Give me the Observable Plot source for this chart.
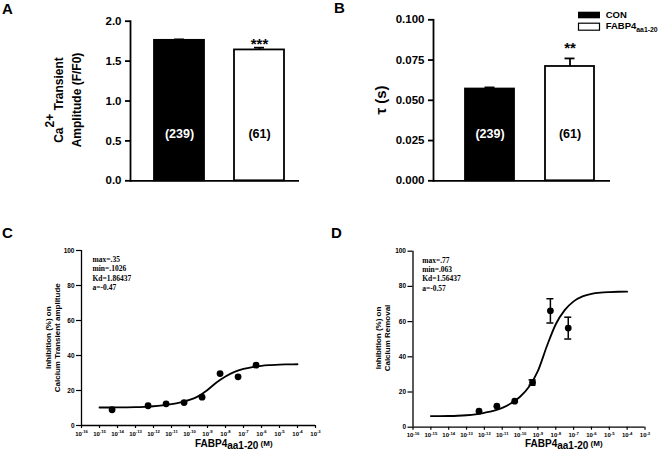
<!DOCTYPE html>
<html>
<head>
<meta charset="utf-8">
<script src="https://cdn.jsdelivr.net/npm/d3@7"></script>
<script src="https://cdn.jsdelivr.net/npm/@observablehq/plot@0.6"></script>
<style>
  body { margin: 0; background: #fff; }
  #fig { position: relative; width: 658px; height: 457px; overflow: hidden; background: #fff; }
  #fig svg { position: absolute; overflow: visible; }
  #fig text { white-space: pre; }
</style>
</head>
<body>
<div id="fig"></div>
<script>
// ---- Panels A and B: mean ± SEM per group ----
const groups = ["CON", "FABP4aa1-20"];
const cellCounts = [239, 61];
const amplitudeMean = [1.76, 1.64];
const amplitudeSem = [0.012, 0.028];
const amplitudeStars = ["", "***"];
const amplitudeTicks = [0, 0.5, 1.0, 1.5, 2.0];
const tauMean = [0.057, 0.071];
const tauSem = [0.001, 0.005];
const tauStars = ["", "**"];
const tauTicks = [0, 0.025, 0.05, 0.075, 0.1];

// ---- Panels C and D: dose–response ----
const doseTickExponents = [-16, -15, -14, -13, -12, -11, -10, -9, -8, -7, -6, -5, -4, -3];
const inhibitionTicks = [0, 20, 40, 60, 80, 100];

const amplitudeDoses = [5e-15, 5e-13, 5e-12, 5e-11, 5e-10, 5e-9, 5e-8, 5e-7];
const amplitudeInhibition = [9.0, 11.3, 12.4, 13.1, 16.2, 29.7, 27.8, 34.5];

const removalDoses = [5e-13, 5e-12, 5e-11, 5e-10, 5e-9, 5e-8];
const removalInhibition = [9.1, 11.9, 14.8, 25.4, 66.1, 56.3];
const removalSem = [0, 0, 0, 1.5, 6.9, 6.2];

// fitted curves, sampled every half decade
const fitExponents = [-15, -14.5, -14, -13.5, -13, -12.5, -12, -11.5, -11, -10.5, -10, -9.5, -9, -8.5, -8, -7.5, -7, -6.5, -6, -5.5, -5, -4.5, -4];
const amplitudeFit = [10.3, 10.3, 10.35, 10.4, 10.5, 10.7, 11.0, 11.5, 12.2, 13.2, 14.6, 16.8, 20.3, 24.6, 28.0, 30.6, 32.3, 33.4, 34.1, 34.5, 34.8, 34.9, 35.0];
const removalFit = [6.3, 6.3, 6.35, 6.5, 6.8, 7.3, 8.2, 9.3, 11.0, 13.6, 17.3, 23.0, 32.0, 46.0, 58.5, 66.5, 71.5, 74.3, 75.8, 76.5, 76.8, 76.95, 77.0];

const amplitudeFitText = ["max=.35", "min=.1026", "Kd=1.86437", "a=-0.47"];
const removalFitText = ["max=.77", "min=.063", "Kd=1.56437", "a=-0.57"];

const SANS = "Liberation Sans, Arial, Helvetica, sans-serif";
const SERIF = "Liberation Serif, Times New Roman, serif";
const fig = document.getElementById("fig");

function place(svg, left, top) {
  svg.style.left = left + "px";
  svg.style.top = top + "px";
  fig.append(svg);
  return svg;
}

// rich text with raised/lowered runs: parts are strings or [text, baselineShift, sizeScale]
function label(svg, {x, y, rotate = 0, size, family = SANS, weight = "bold", anchor = "middle", parts}) {
  const t = d3.select(svg).append("text")
    .attr("transform", `translate(${x},${y})` + (rotate ? ` rotate(${rotate})` : ""))
    .attr("text-anchor", anchor)
    .attr("font-family", family)
    .attr("font-size", size)
    .attr("font-weight", weight)
    .attr("fill", "black");
  let shift = 0;
  for (const p of parts) {
    const [str, s = 0, scale = 1] = typeof p === "string" ? [p] : p;
    t.append("tspan").attr("dy", s - shift).attr("font-size", size * scale).text(str);
    shift = s;
  }
  return t;
}

function barPanel({means, sems, stars, ticks, format, domain, width, height, margins, band, starDy}) {
  const rows = groups.map((g, i) => ({group: g, mean: means[i], sem: sems[i], stars: stars[i], n: cellCounts[i]}));
  return Plot.plot({
    width, height, ...margins,
    style: {background: "transparent", color: "black", fontFamily: SANS, fontWeight: "bold", overflow: "visible"},
    x: {type: "band", domain: groups, ...band, axis: null},
    y: {domain, axis: null},
    marks: [
      Plot.barY(rows, {x: "group", y: "mean", fill: d => d.group === "CON" ? "black" : "white", stroke: "black", strokeWidth: 1.8}),
      Plot.ruleX(rows, {x: "group", y1: "mean", y2: d => d.mean + d.sem, stroke: "black", strokeWidth: 1.8}),
      Plot.tickY(rows, {x: "group", y: d => d.mean + d.sem, inset: band.capInset, stroke: "black", strokeWidth: 1.8}),
      Plot.text(rows, {x: "group", text: d => `(${d.n})`, frameAnchor: "bottom", dy: -43, fill: d => d.group === "CON" ? "white" : "black", fontSize: 12.5, fontWeight: "bold"}),
      Plot.text(rows, {x: "group", y: d => d.mean + d.sem, text: "stars", lineAnchor: "bottom", dy: starDy, fontSize: 15, fontWeight: "bold"}),
      Plot.axisY(ticks, {tickFormat: format, tickSize: 5, tickPadding: 4, fontSize: 11.5, fontWeight: "bold", strokeWidth: 1.8, label: null}),
      Plot.frame({anchor: "left", strokeWidth: 1.8}),
      Plot.ruleY([0], {strokeWidth: 1.8})
    ]
  });
}

function dosePanel({doses, values, sems, fit, fitText, width, height, margins, textDx}) {
  const rows = doses.map((d, i) => ({dose: d, value: values[i], sem: sems ? sems[i] : 0}));
  const fitRows = fitExponents.map((e, i) => ({dose: 10 ** e, value: fit[i]}));
  const errRows = rows.filter(d => d.sem > 0);
  const svg = Plot.plot({
    width, height, ...margins,
    style: {background: "transparent", color: "black", fontFamily: SANS, fontWeight: "bold", overflow: "visible"},
    x: {type: "log", domain: [1e-16, 1e-3], axis: null},
    y: {domain: [0, 100], axis: null},
    marks: [
      Plot.ruleX([1e-16], {strokeWidth: 1.3}),
      Plot.ruleY([0], {strokeWidth: 1.3}),
      Plot.axisY(inhibitionTicks, {tickSize: 5, tickPadding: 2, fontSize: 6.5, fontWeight: "bold", strokeWidth: 1.2, label: null}),
      Plot.axisX(doseTickExponents.map(e => 10 ** e), {tickFormat: d => String(Math.round(Math.log10(d))), tickSize: 3, tickPadding: 3, fontSize: 6, fontWeight: "bold", strokeWidth: 1.2, label: null}),
      Plot.line(fitRows, {x: "dose", y: "value", curve: "monotone-x", stroke: "black", strokeWidth: 1.8}),
      Plot.ruleX(errRows, {x: "dose", y1: d => d.value - d.sem, y2: d => d.value + d.sem, stroke: "black", strokeWidth: 1.5}),
      Plot.ruleY(errRows.flatMap(d => [{dose: d.dose, y: d.value - d.sem}, {dose: d.dose, y: d.value + d.sem}]), {x1: "dose", x2: "dose", y: "y", insetLeft: -3.5, insetRight: -3.5, stroke: "black", strokeWidth: 1.5}),
      Plot.dot(rows, {x: "dose", y: "value", r: 3.4, fill: "black", stroke: "none"}),
      Plot.text([fitText.join("\n")], {frameAnchor: "top-left", textAnchor: "start", lineAnchor: "top", lineHeight: 1.25, dx: textDx, dy: 4.7, fontFamily: SERIF, fontSize: 7.5, fontWeight: "bold"})
    ]
  });
  // powers of ten: "10" with a raised exponent
  d3.select(svg).selectAll('g[aria-label="x-axis tick label"] text').each(function () {
    const t = d3.select(this);
    const e = t.text();
    t.text("10");
    t.append("tspan").attr("dy", -2.6).attr("font-size", 4.2).text(e);
  });
  return svg;
}

// ---- A: Ca2+ transient amplitude ----
const svgA = place(barPanel({
  means: amplitudeMean, sems: amplitudeSem, stars: amplitudeStars, ticks: amplitudeTicks,
  format: d3.format(".1f"), domain: [0, 2], width: 330, height: 225,
  margins: {marginLeft: 130, marginRight: 31, marginTop: 20.7, marginBottom: 44.7},
  band: {paddingInner: 0.379, paddingOuter: 0.24, align: 0.6, capInset: 20},
  starDy: 1.5
}), 0, 0);
label(svgA, {x: 2, y: 14, size: 15, anchor: "start", parts: ["A"]});
label(svgA, {x: 62.5, y: 100, rotate: -90, size: 12, parts: ["Ca", ["2+", -8.5], [" Transient", 0]]});
label(svgA, {x: 80.5, y: 100, rotate: -90, size: 12, parts: ["Amplitude (F/F0)"]});

// ---- B: decay time constant ----
const svgB = place(barPanel({
  means: tauMean, sems: tauSem, stars: tauStars, ticks: tauTicks,
  format: d3.format(".3f"), domain: [0, 0.1], width: 328, height: 225,
  margins: {marginLeft: 103, marginRight: 48, marginTop: 19.3, marginBottom: 44.7},
  band: {paddingInner: 0.39, paddingOuter: 0.297, align: 0.67, capInset: 19.5},
  starDy: -5.6
}), 330, 0);
label(svgB, {x: 4, y: 13, size: 15, anchor: "start", parts: ["B"]});
label(svgB, {x: 55.5, y: 100, rotate: -90, size: 15, parts: ["τ (s)"]});
// legend
d3.select(svgB).append("rect").attr("x", 248).attr("y", 11.7).attr("width", 22).attr("height", 6.6).attr("fill", "black");
d3.select(svgB).append("rect").attr("x", 248.5).attr("y", 23.2).attr("width", 21).attr("height", 7).attr("fill", "white").attr("stroke", "black").attr("stroke-width", 1.2);
label(svgB, {x: 275.7, y: 18.4, size: 9.5, anchor: "start", parts: ["CON"]});
label(svgB, {x: 275.7, y: 29.4, size: 9.5, anchor: "start", parts: ["FABP4", ["aa1-20", 2.5, 0.72]]});

// ---- C: inhibition of transient amplitude ----
const svgC = place(dosePanel({
  doses: amplitudeDoses, values: amplitudeInhibition, fit: amplitudeFit, fitText: amplitudeFitText,
  width: 330, height: 232, margins: {marginLeft: 81, marginRight: 15, marginTop: 25, marginBottom: 32}, textDx: 11
}), 0, 225);
label(svgC, {x: 2, y: 13, size: 15, anchor: "start", parts: ["C"]});
label(svgC, {x: 51, y: 112.7, rotate: -90, size: 8, parts: ["Inhibition (%) on"]});
label(svgC, {x: 59.5, y: 112.7, rotate: -90, size: 8, parts: ["Calcium Transient amplitude"]});
label(svgC, {x: 195, y: 222, size: 10, anchor: "start", parts: ["FABP4", ["aa1-20", 2.3], [" (M)", -1.5, 0.8]]});

// ---- D: inhibition of calcium removal ----
const svgD = place(dosePanel({
  doses: removalDoses, values: removalInhibition, sems: removalSem, fit: removalFit, fitText: removalFitText,
  width: 328, height: 232, margins: {marginLeft: 82.5, marginRight: 13.5, marginTop: 25.7, marginBottom: 30.3}, textDx: 9.2
}), 330, 225);
label(svgD, {x: 1, y: 13, size: 15, anchor: "start", parts: ["D"]});
label(svgD, {x: 51, y: 113, rotate: -90, size: 8, parts: ["Inhibition (%) on"]});
label(svgD, {x: 59.5, y: 113, rotate: -90, size: 8, parts: ["Calcium Removal"]});
label(svgD, {x: 195, y: 222, size: 10, anchor: "start", parts: ["FABP4", ["aa1-20", 2.3], [" (M)", -1.5, 0.8]]});
</script>
</body>
</html>
